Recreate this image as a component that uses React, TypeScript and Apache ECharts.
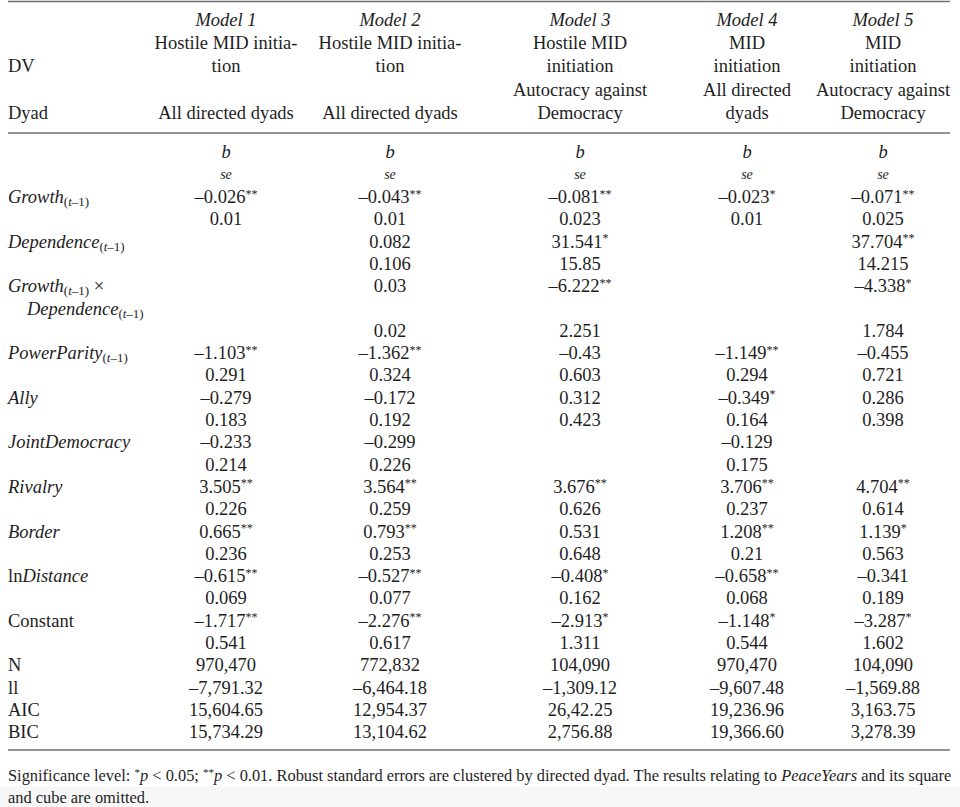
import React, { useEffect, useRef } from "react";
import * as echarts from "echarts";

// ---------- data ----------
const modelNames = ["Model 1", "Model 2", "Model 3", "Model 4", "Model 5"];
const dvLines = [
  ["Hostile MID initia-", "tion"],
  ["Hostile MID initia-", "tion"],
  ["Hostile MID", "initiation"],
  ["MID", "initiation"],
  ["MID", "initiation"],
];
const dyadLines = [
  ["All directed dyads"],
  ["All directed dyads"],
  ["Autocracy against", "Democracy"],
  ["All directed", "dyads"],
  ["Autocracy against", "Democracy"],
];

const growthB = ["–0.026**", "–0.043**", "–0.081**", "–0.023*", "–0.071**"];
const growthSe = ["0.01", "0.01", "0.023", "0.01", "0.025"];
const dependenceB = ["", "0.082", "31.541*", "", "37.704**"];
const dependenceSe = ["", "0.106", "15.85", "", "14.215"];
const interactionB = ["", "0.03", "–6.222**", "", "–4.338*"];
const interactionSe = ["", "0.02", "2.251", "", "1.784"];
const powerParityB = ["–1.103**", "–1.362**", "–0.43", "–1.149**", "–0.455"];
const powerParitySe = ["0.291", "0.324", "0.603", "0.294", "0.721"];
const allyB = ["–0.279", "–0.172", "0.312", "–0.349*", "0.286"];
const allySe = ["0.183", "0.192", "0.423", "0.164", "0.398"];
const jointDemB = ["–0.233", "–0.299", "", "–0.129", ""];
const jointDemSe = ["0.214", "0.226", "", "0.175", ""];
const rivalryB = ["3.505**", "3.564**", "3.676**", "3.706**", "4.704**"];
const rivalrySe = ["0.226", "0.259", "0.626", "0.237", "0.614"];
const borderB = ["0.665**", "0.793**", "0.531", "1.208**", "1.139*"];
const borderSe = ["0.236", "0.253", "0.648", "0.21", "0.563"];
const lnDistanceB = ["–0.615**", "–0.527**", "–0.408*", "–0.658**", "–0.341"];
const lnDistanceSe = ["0.069", "0.077", "0.162", "0.068", "0.189"];
const constantB = ["–1.717**", "–2.276**", "–2.913*", "–1.148*", "–3.287*"];
const constantSe = ["0.541", "0.617", "1.311", "0.544", "1.602"];
const nValues = ["970,470", "772,832", "104,090", "970,470", "104,090"];
const llValues = ["–7,791.32", "–6,464.18", "–1,309.12", "–9,607.48", "–1,569.88"];
const aicValues = ["15,604.65", "12,954.37", "26,42.25", "19,236.96", "3,163.75"];
const bicValues = ["15,734.29", "13,104.62", "2,756.88", "19,366.60", "3,278.39"];

// row labels (rich-text markup); empty label = continuation row
const rowLabels = [
  "{i|Growth}{sub|(}{subi|t}{sub|–1)}",
  "",
  "{i|Dependence}{sub|(}{subi|t}{sub|–1)}",
  "",
  "{i|Growth}{sub|(}{subi|t}{sub|–1)}{n| ×}",
  "{ind|}{i|Dependence}{sub|(}{subi|t}{sub|–1)}",
  "",
  "{i|PowerParity}{sub|(}{subi|t}{sub|–1)}",
  "",
  "{i|Ally}",
  "",
  "{i|JointDemocracy}",
  "",
  "{i|Rivalry}",
  "",
  "{i|Border}",
  "",
  "{n|ln}{i|Distance}",
  "",
  "{n|Constant}",
  "",
  "{n|N}",
  "{n|ll}",
  "{n|AIC}",
  "{n|BIC}",
];
const rowValues = [
  growthB, growthSe, dependenceB, dependenceSe, interactionB, null, interactionSe,
  powerParityB, powerParitySe, allyB, allySe, jointDemB, jointDemSe,
  rivalryB, rivalrySe, borderB, borderSe, lnDistanceB, lnDistanceSe,
  constantB, constantSe, nValues, llValues, aicValues, bicValues,
];

const footnote1 =
  "{n|Significance level: }{sup|*}{i|p}{n| < 0.05; }{sup|**}{i|p}{n| < 0.01. Robust standard errors are clustered by directed dyad. The results relating to }{i|PeaceYears}{n| and its square}";
const footnote2 = "{n|and cube are omitted.}";

// ---------- layout / style ----------
const FONT = "'Liberation Serif', 'Times New Roman', 'DejaVu Serif', serif";
const INK = "#1e1e1e";
const FS = 18.5;
const colX = [226, 390, 580, 747, 883];
const headerY0 = 20;
const headerStep = 23.2;
const bodyY0 = 197;
const bodyStep = 22.3;
const LEFT = 8;
const RIGHT = 950;

const baseRich = {
  n: { fontSize: FS, fontFamily: FONT, fill: INK },
  i: { fontSize: FS, fontFamily: FONT, fontStyle: "italic", fill: INK },
  sub: { fontSize: 13, fontFamily: FONT, fill: INK, padding: [9, 0, 0, 0] },
  subi: { fontSize: 13, fontFamily: FONT, fontStyle: "italic", fill: INK, padding: [9, 0, 0, 0] },
  sup: { fontSize: 12, fontFamily: FONT, fill: INK, padding: [0, 0, 7, 0] },
  ind: { width: 19 },
  se: { fontSize: 14, fontFamily: FONT, fontStyle: "italic", fill: INK },
};

function valueMarkup(v: string) {
  const m = v.match(/^(.*?)(\*+)$/);
  if (m) return `{n|${m[1]}}{sup|${m[2]}}`;
  return `{n|${v}}`;
}

function txt(x: number, y: number, text: string, align: string, rich: any = baseRich) {
  return {
    type: "text",
    x,
    y,
    silent: true,
    style: {
      text,
      align,
      verticalAlign: "middle",
      fontSize: FS,
      fontFamily: FONT,
      fill: INK,
      rich,
    },
  };
}

function hline(y: number) {
  return {
    type: "line",
    silent: true,
    shape: { x1: LEFT, y1: y, x2: RIGHT, y2: y },
    style: { stroke: "#6f6f6f", lineWidth: 1.6 },
  };
}

export default function App() {
  const ref = useRef<HTMLDivElement>(null);
  useEffect(() => {
    if (!ref.current) return;
    const chart = echarts.init(ref.current, null, { renderer: "svg" });
    const els: any[] = [];

    els.push({
      type: "rect",
      silent: true,
      shape: { x: 0, y: 787, width: 960, height: 20 },
      style: { fill: "#f7f7f7" },
    });

    els.push(hline(1.5));
    els.push(hline(133));
    els.push(hline(750));

    // header
    modelNames.forEach((m, c) => {
      els.push(txt(colX[c], headerY0, `{i|${m}}`, "center"));
      dvLines[c].forEach((l, k) => {
        els.push(txt(colX[c], headerY0 + headerStep * (k + 1), `{n|${l}}`, "center"));
      });
      const dl = dyadLines[c];
      dl.forEach((l, k) => {
        els.push(txt(colX[c], headerY0 + headerStep * (4 - (dl.length - 1 - k)), `{n|${l}}`, "center"));
      });
      els.push(txt(colX[c], 152, "{i|b}", "center"));
      els.push(txt(colX[c], 174, "{se|se}", "center"));
    });
    els.push(txt(LEFT, headerY0 + headerStep * 2, "{n|DV}", "left"));
    els.push(txt(LEFT, headerY0 + headerStep * 4, "{n|Dyad}", "left"));

    // body
    rowLabels.forEach((lab, r) => {
      const y = bodyY0 + bodyStep * r;
      if (lab) els.push(txt(LEFT, y, lab, "left"));
      const vals = rowValues[r];
      if (vals) {
        vals.forEach((v, c) => {
          if (v) els.push(txt(colX[c], y, valueMarkup(v), "center"));
        });
      }
    });

    // footnote
    const footRich = {
      n: { fontSize: 16.4, fontFamily: FONT, fill: INK },
      i: { fontSize: 16.4, fontFamily: FONT, fontStyle: "italic", fill: INK },
      sup: { fontSize: 11, fontFamily: FONT, fill: INK, padding: [0, 0, 7, 0] },
    };
    els.push(txt(LEFT, 775, footnote1, "left", footRich));
    els.push(txt(LEFT, 797, footnote2, "left", footRich));

    chart.setOption({
      animation: false,
      backgroundColor: "#ffffff",
      graphic: { elements: els },
    });
    return () => chart.dispose();
  }, []);
  return (
    <div
      ref={ref}
      style={{ position: "absolute", left: 0, top: 0, width: 960, height: 807 }}
    />
  );
}
